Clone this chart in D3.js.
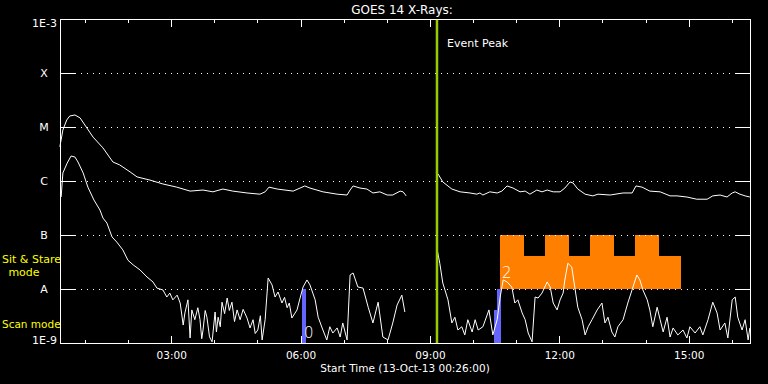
<!DOCTYPE html>
<html><head><meta charset="utf-8">
<script src="https://cdn.jsdelivr.net/npm/d3@7"></script>
<style>
body{margin:0;background:#000}
svg{display:block}
text{font-family:"DejaVu Sans",sans-serif}
</style>
</head><body>
<svg id="c" width="768" height="384"></svg>
<script>
// ---------- data ----------
const startHour = 26 / 60;          // 00:26:00
const spanHours = 16;
const majorTickHours = [3, 6, 9, 12, 15];
const minorTickHours = d3.range(1, 17);
const levelValues = [1e-3, 1e-4, 1e-5, 1e-6, 1e-7, 1e-8, 1e-9];
const levelLabels = ["1E-3", "X", "M", "C", "B", "A", "1E-9"];
const eventPeakHour = 9.175;

// Long channel (1-8 A), before and after data gap: [hour, flux]
const longSeg1 = [
 [0.43,4.3e-6],[0.50,8.8e-6],[0.59,1.35e-5],[0.66,1.6e-5],[0.78,1.67e-5],[0.90,1.47e-5],
 [1.01,1.09e-5],[1.20,6.5e-6],[1.43,4.1e-6],[1.66,2.25e-6],[1.82,1.98e-6],[2.06,1.47e-6],
 [2.22,1.19e-6],[2.52,1.04e-6],[2.82,8.8e-7],[3.14,7.7e-7],[3.45,6.5e-7],[3.75,6.8e-7],
 [3.98,6.3e-7],[4.21,7.1e-7],[4.44,6.5e-7],[4.77,6.0e-7],[5.07,5.7e-7],[5.19,6.3e-7],
 [5.28,7.7e-7],[5.47,7.1e-7],[5.84,6.5e-7],[6.00,7.4e-7],[6.11,8.1e-7],[6.23,7.4e-7],
 [6.53,6.3e-7],[6.86,5.7e-7],[7.09,5.5e-7],[7.16,6.8e-7],[7.23,8.1e-7],[7.39,7.4e-7],
 [7.55,7.1e-7],[7.69,6.0e-7],[7.85,6.3e-7],[8.02,5.5e-7],[8.15,5.5e-7],[8.32,6.5e-7],
 [8.39,6.3e-7],[8.46,5.3e-7]
];
const longSeg2 = [
 [9.15,1.42e-6],[9.20,1.35e-6],[9.31,9.6e-7],[9.52,7.1e-7],[9.71,6.3e-7],[9.94,6.0e-7],
 [10.10,5.7e-7],[10.17,6.0e-7],[10.24,5.5e-7],[10.40,6.3e-7],[10.57,6.0e-7],[10.68,6.5e-7],
 [10.80,8.1e-7],[10.94,7.4e-7],[11.10,6.3e-7],[11.22,6.5e-7],[11.33,5.7e-7],[11.49,6.8e-7],
 [11.61,6.3e-7],[11.73,6.8e-7],[11.87,6.3e-7],[12.03,6.3e-7],[12.14,7.4e-7],[12.26,9.6e-7],
 [12.33,9.2e-7],[12.44,7.1e-7],[12.61,5.7e-7],[12.79,5.3e-7],[12.91,5.7e-7],[13.19,5.5e-7],
 [13.49,6.0e-7],[13.70,6.0e-7],[13.79,8.1e-7],[13.93,7.7e-7],[14.11,6.5e-7],[14.35,6.3e-7],
 [14.58,5.3e-7],[14.74,5.3e-7],[14.97,5.05e-7],[15.20,4.6e-7],[15.44,4.6e-7],[15.57,5.3e-7],
 [15.74,5.5e-7],[15.90,5.05e-7],[16.02,6.0e-7],[16.09,6.3e-7],[16.20,5.7e-7],[16.32,5.3e-7],
 [16.43,5.05e-7]
];
// Short channel (0.5-4 A)
const shortSeg1 = [
 [0.46,5.05e-7],[0.50,1.41e-6],[0.60,2.15e-6],[0.69,2.9e-6],[0.78,2.78e-6],[0.85,2.25e-6],
 [0.97,1.41e-6],[1.08,7.7e-7],[1.22,4.45e-7],[1.36,2.9e-7],[1.43,2.06e-7],[1.52,1.67e-7],
 [1.64,9.2e-8],[1.75,7.4e-8],[1.89,5.3e-8],[2.01,3.4e-8],[2.13,2.8e-8],[2.29,2.25e-8],
 [2.45,1.67e-8],[2.59,1.35e-8],[2.68,1.04e-8],[2.82,9.6e-9],[2.91,7.1e-9],[2.98,8.4e-9],
 [3.05,6.3e-9],[3.15,7.7e-9],[3.22,5.5e-9],[3.29,2.15e-9],[3.33,3.6e-9],[3.40,6.3e-9],
 [3.45,1.24e-9],[3.49,4.1e-9],[3.56,2.7e-9],[3.63,4.5e-9],[3.68,2.7e-9],[3.72,1.2e-9],[3.75,1.74e-9],
 [3.80,4.0e-9],[3.84,3.0e-9],[3.90,1.3e-9],[3.96,1.05e-9],[4.03,3.75e-9],[4.06,1.6e-9],[4.10,3.0e-9],
 [4.15,2.0e-9],[4.19,5.7e-9],[4.25,3.5e-9],[4.31,6.8e-9],[4.36,4.0e-9],
 [4.42,5.7e-9],[4.48,2.5e-9],[4.54,4.1e-9],[4.61,2.7e-9],[4.68,4.2e-9],[4.77,2.9e-9],[4.84,1.9e-9],[4.91,2.7e-9],
 [4.96,1.5e-9],[5.02,1.74e-9],[5.08,3.2e-9],[5.12,1.14e-9],[5.19,2.7e-9],[5.26,1.6e-8],[5.35,1.19e-8],[5.42,7.1e-9],
 [5.49,8.8e-9],[5.58,5.5e-9],[5.64,7.0e-9],[5.70,4.5e-9],[5.75,5.5e-9],[5.81,2.9e-9],[5.93,4.1e-9],[6.00,6.8e-9],
 [6.07,1.09e-8],[6.16,1.47e-8],[6.23,1.19e-8],[6.35,6.3e-9],[6.42,3.0e-9],[6.53,1.74e-9],
 [6.62,1.14e-9],[6.69,2.0e-9],[6.76,1.53e-9],[6.86,1.9e-9],[6.93,1.29e-9],[6.99,2.35e-9],
 [7.09,1.14e-9],[7.16,1.82e-8],[7.23,1.98e-8],[7.34,1.09e-8],[7.46,1.04e-8],[7.58,4.6e-9],
 [7.69,2.35e-9],[7.81,5.7e-9],[7.92,1.29e-9],[8.04,1.14e-9],[8.15,2.35e-9],[8.25,5.05e-9],
 [8.36,7.7e-9],[8.43,3.75e-9]
];
const shortSeg2 = [
 [9.18,5.3e-8],[9.24,3.0e-8],[9.31,1.29e-8],[9.43,6.3e-9],[9.52,2.35e-9],[9.59,3.0e-9],
 [9.66,1.74e-9],[9.75,2.0e-9],[9.82,1.41e-9],[9.89,2.7e-9],[9.99,1.6e-9],[10.06,2.7e-9],
 [10.13,1.74e-9],[10.24,2.0e-9],[10.38,4.1e-9],[10.47,1.41e-9],[10.57,2.7e-9],[10.64,7.1e-9],
 [10.71,1.47e-8],[10.80,1.35e-8],[10.91,1.09e-8],[10.98,5.5e-9],[11.05,6.3e-9],[11.15,3.6e-9],
 [11.22,2.7e-9],[11.29,1.53e-9],[11.38,1.05e-9],[11.45,7.1e-9],[11.52,6.8e-9],[11.61,8.4e-9],
 [11.73,1.35e-8],[11.80,1.09e-8],[11.87,5.5e-9],[11.96,4.1e-9],[12.03,6.3e-9],[12.10,8.4e-9],
 [12.14,1.47e-8],[12.21,3.0e-8],[12.30,2.55e-8],[12.37,1.09e-8],[12.44,4.6e-9],[12.54,2.7e-9],
 [12.61,1.41e-9],[12.68,2.0e-9],[12.77,2.7e-9],[12.89,4.1e-9],[13.00,5.5e-9],[13.07,2.35e-9],
 [13.14,3.0e-9],[13.23,1.6e-9],[13.30,1.29e-9],[13.37,2.0e-9],[13.49,2.7e-9],[13.60,5.5e-9],
 [13.72,1.09e-8],[13.81,1.82e-8],[13.88,1.47e-8],[13.95,9.6e-9],[14.05,6.3e-9],[14.11,4.1e-9],
 [14.18,2.0e-9],[14.28,4.6e-9],[14.35,2.7e-9],[14.42,1.6e-9],[14.51,3.0e-9],[14.58,1.29e-9],
 [14.65,1.9e-9],[14.76,1.41e-9],[14.88,1.74e-9],[14.97,1.24e-9],[15.04,2.0e-9],[15.16,1.53e-9],
 [15.27,2.0e-9],[15.34,1.41e-9],[15.46,2.7e-9],[15.57,5.7e-9],[15.67,3.6e-9],[15.74,1.74e-9],
 [15.85,2.35e-9],[15.92,1.24e-9],[16.02,6.3e-9],[16.09,7.1e-9],[16.15,3.0e-9],[16.25,1.74e-9],
 [16.32,2.7e-9],[16.39,1.14e-9],[16.43,1.9e-9]
];

// Sit & Stare observation blocks
const sitStareSpan = [10.64, 14.83];
const sitStareBaseFlux = 1e-8;
const sitStareLowTop = 4.1e-8;
const sitStareTallStarts = [10.64, 11.68, 12.72, 13.77];
const sitStareTallEnds   = [11.19, 12.24, 13.28, 14.32];
const sitStareTallTop = 1e-7;

// Scan-mode markers
const scanMarkHours = [6.08, 10.62, 10.55];
const scanMarkTops  = [1e-8, 1e-8, 4.1e-9];
const scanLabels     = ["0", "2"];
const scanLabelHours = [6.09, 10.68];
const scanLabelFlux  = [1.24e-9, 1.6e-8];

// ---------- chart ----------
const svg = d3.select("#c");
const L = 60, R = 750, T = 19, B = 343;
const x = d3.scaleLinear().domain([startHour, startHour + spanHours]).range([L, R]);
const y = d3.scaleLog().domain([1e-9, 1e-3]).range([B, T]);
const px = v => Math.round(v) + 0.5;

svg.append("rect").attr("width", 768).attr("height", 384).attr("fill", "#000");

// orange Sit & Stare blocks
const orange = "#ff8000";
svg.append("rect")
  .attr("x", x(sitStareSpan[0])).attr("width", x(sitStareSpan[1]) - x(sitStareSpan[0]))
  .attr("y", y(sitStareLowTop)).attr("height", y(sitStareBaseFlux) - y(sitStareLowTop))
  .attr("fill", orange).attr("shape-rendering", "crispEdges");
svg.selectAll("rect.tall").data(sitStareTallStarts).join("rect").attr("class", "tall")
  .attr("x", d => x(d)).attr("width", (d, i) => x(sitStareTallEnds[i]) - x(d))
  .attr("y", y(sitStareTallTop)).attr("height", y(sitStareBaseFlux) - y(sitStareTallTop))
  .attr("fill", orange).attr("shape-rendering", "crispEdges");

// dotted level lines
const inner = levelValues.slice(1, -1);
svg.selectAll("line.dot").data(inner).join("line").attr("class", "dot")
  .attr("x1", L + 15).attr("x2", R - 14)
  .attr("y1", d => px(y(d))).attr("y2", d => px(y(d)))
  .attr("stroke", "#fff").attr("stroke-dasharray", "1,5").attr("shape-rendering", "crispEdges");
svg.selectAll("line.tl").data(inner).join("line").attr("class", "tl")
  .attr("x1", L).attr("x2", L + 15)
  .attr("y1", d => px(y(d))).attr("y2", d => px(y(d)))
  .attr("stroke", "#fff").attr("shape-rendering", "crispEdges");
svg.selectAll("line.tr").data(inner).join("line").attr("class", "tr")
  .attr("x1", R - 14).attr("x2", R)
  .attr("y1", d => px(y(d))).attr("y2", d => px(y(d)))
  .attr("stroke", "#fff").attr("shape-rendering", "crispEdges");

// scan markers (blue)
svg.selectAll("rect.scan").data(scanMarkHours).join("rect").attr("class", "scan")
  .attr("x", d => x(d) - 2).attr("width", 4)
  .attr("y", (d, i) => y(scanMarkTops[i])).attr("height", (d, i) => B - y(scanMarkTops[i]))
  .attr("fill", "#6464ff").attr("shape-rendering", "crispEdges");

// curves
const line = d3.line().x(d => x(d[0])).y(d => y(Math.max(d[1], 1e-9)));
[longSeg1, longSeg2, shortSeg1, shortSeg2].forEach(seg => {
  svg.append("path").attr("d", line(seg)).attr("fill", "none")
    .attr("stroke", "#fff").attr("stroke-width", 1).attr("stroke-linejoin", "round");
});

// scan labels
svg.selectAll("text.scanlab").data(scanLabels).join("text").attr("class", "scanlab")
  .attr("x", (d, i) => x(scanLabelHours[i])).attr("y", (d, i) => y(scanLabelFlux[i]))
  .attr("fill", "#fff").attr("font-size", 15).attr("font-weight", 200).text(d => d);

// event peak line
svg.append("line").attr("x1", x(eventPeakHour)).attr("x2", x(eventPeakHour))
  .attr("y1", T).attr("y2", B).attr("stroke", "#99cc00").attr("stroke-width", 2.5);
svg.append("text").attr("x", x(eventPeakHour) + 10).attr("y", 47)
  .attr("fill", "#fff").attr("font-size", 11).text("Event Peak");

// frame
svg.append("rect").attr("x", L + 0.5).attr("y", T + 0.5).attr("width", R - L).attr("height", B - T)
  .attr("fill", "none").attr("stroke", "#fff").attr("shape-rendering", "crispEdges");

// x axes (bottom / top), major & minor ticks
const fmt = h => String(h).padStart(2, "0") + ":00";
function styleAxis(g) {
  g.select(".domain").remove();
  g.selectAll("line").attr("stroke", "#fff").attr("shape-rendering", "crispEdges");
  g.selectAll("text").attr("fill", "#fff").attr("font-size", 10.5).attr("font-family", "DejaVu Sans");
}
svg.append("g").attr("transform", `translate(0.5,${B})`)
  .call(d3.axisBottom(x).tickValues(minorTickHours).tickSize(-3).tickFormat(""))
  .call(styleAxis);
svg.append("g").attr("transform", `translate(0.5,${B})`)
  .call(d3.axisBottom(x).tickValues(majorTickHours).tickSize(-7).tickPadding(9).tickFormat(fmt))
  .call(styleAxis);
svg.append("g").attr("transform", `translate(0.5,${T + 1})`)
  .call(d3.axisTop(x).tickValues(minorTickHours).tickSize(-3).tickFormat(""))
  .call(styleAxis);
svg.append("g").attr("transform", `translate(0.5,${T + 1})`)
  .call(d3.axisTop(x).tickValues(majorTickHours).tickSize(-7).tickFormat(""))
  .call(styleAxis);

// y labels
svg.selectAll("text.ylab").data(levelLabels).join("text").attr("class", "ylab")
  .attr("x", (d, i) => (i === 0 || i === 6) ? 57 : 44)
  .attr("y", (d, i) => y(levelValues[i]) + (i === 0 ? 8 : i === 6 ? 1 : 4))
  .attr("text-anchor", (d, i) => (i === 0 || i === 6) ? "end" : "middle")
  .attr("fill", "#fff").attr("font-size", 11).text(d => d);

// mode labels
const yellow = "#ffff00";
svg.append("text").attr("x", 2).attr("y", 263).attr("fill", yellow).attr("font-size", 11).text("Sit & Stare");
svg.append("text").attr("x", 24).attr("y", 276).attr("text-anchor", "middle").attr("fill", yellow).attr("font-size", 11).text("mode");
svg.append("text").attr("x", 2).attr("y", 328).attr("fill", yellow).attr("font-size", 10.5).text("Scan mode");

// titles
svg.append("text").attr("x", 402).attr("y", 14).attr("text-anchor", "middle")
  .attr("fill", "#fff").attr("font-size", 12).text("GOES 14 X-Rays:");
svg.append("text").attr("x", 405).attr("y", 372).attr("text-anchor", "middle")
  .attr("fill", "#fff").attr("font-size", 10.5).text("Start Time (13-Oct-13 00:26:00)");
</script>
</body></html>
